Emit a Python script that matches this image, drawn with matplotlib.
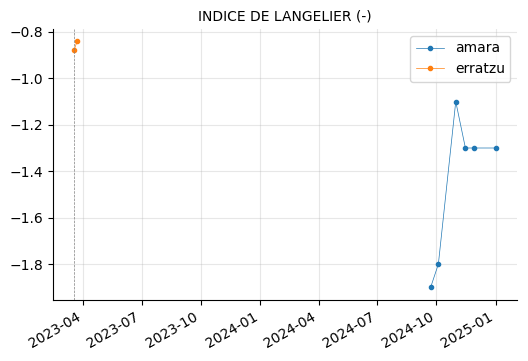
import matplotlib
matplotlib.use("Agg")
import matplotlib.pyplot as plt
import matplotlib.dates as mdates
import pandas as pd

title = "INDICE DE LANGELIER (-)"

amara_dates = ["2024-09-22", "2024-10-04", "2024-10-31", "2024-11-15", "2024-11-29", "2025-01-02"]
amara_vals = [-1.9, -1.8, -1.1, -1.3, -1.3, -1.3]

erratzu_dates = ["2023-03-18", "2023-03-23"]
erratzu_vals = [-0.88, -0.84]

vline_date = "2023-03-18"

fig, ax = plt.subplots(figsize=(5.28, 3.61), dpi=100)
ax.plot(pd.to_datetime(amara_dates), amara_vals, marker="o", markersize=3,
        linewidth=0.5, color="#1f77b4", label="amara")
ax.plot(pd.to_datetime(erratzu_dates), erratzu_vals, marker="o", markersize=3,
        linewidth=0.5, color="#ff7f0e", label="erratzu")
ax.axvline(pd.to_datetime(vline_date), color="grey", linestyle="--", linewidth=0.5)

ax.set_title(title, fontsize=10)
ax.grid(True, alpha=0.3)
ax.spines["top"].set_visible(False)
ax.spines["right"].set_visible(False)
ax.xaxis.set_major_locator(mdates.MonthLocator(bymonth=[1, 4, 7, 10]))
ax.xaxis.set_major_formatter(mdates.DateFormatter("%Y-%m"))
ax.legend(loc="upper right")
fig.autofmt_xdate()
fig.subplots_adjust(left=0.1, right=0.98, top=0.92, bottom=0.17)
fig.savefig("out.png", dpi=100)
